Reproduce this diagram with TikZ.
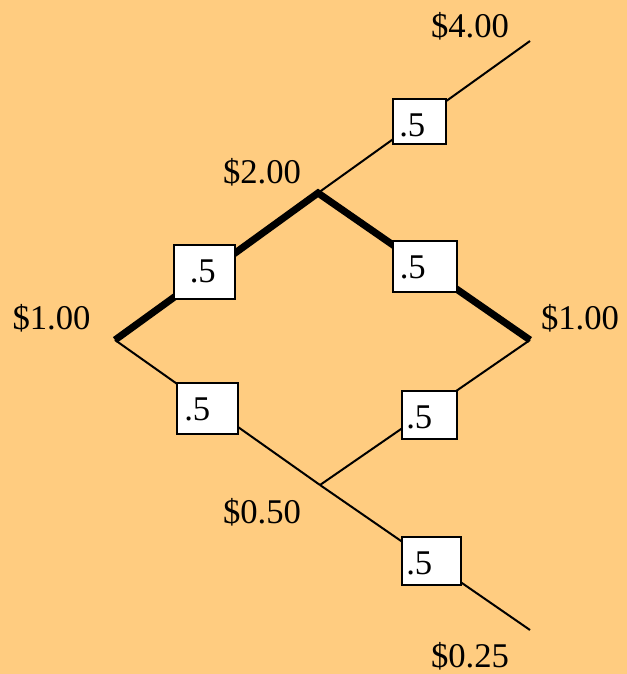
\documentclass[tikz,border=0pt]{standalone}
\usepackage{fontspec}
\setmainfont{Liberation Serif}
\definecolor{bgpeach}{RGB}{255,204,128}
\begin{document}
\begin{tikzpicture}[x=0.75pt,y=-0.75pt,
  thinline/.style={line width=1.5pt},
  thickline/.style={line width=5.3pt,line join=miter},
  probbox/.style={draw,fill=white,line width=1.5pt,inner sep=0pt,rectangle},
  probtxt/.style={anchor=base west,inner sep=0pt,font=\fontsize{26}{30}\selectfont},
  money/.style={anchor=base,inner sep=0pt,font=\fontsize{26}{30}\selectfont}]
\fill[bgpeach] (0,0) rectangle (627,674);
\useasboundingbox (0,0) rectangle (627,674);
% tree points
\coordinate (A) at (115,340);
\coordinate (B) at (318,193);
\coordinate (C) at (530,41);
\coordinate (D) at (530,340);
\coordinate (E) at (320,485);
\coordinate (F) at (530,630);
% connectors
\draw[thinline] (B) -- (C);
\draw[thinline] (A) -- (E);
\draw[thinline] (E) -- (D);
\draw[thinline] (E) -- (F);
\draw[thickline] (A) -- (B) -- (D);
% probability boxes
\node[probbox,minimum width=46pt,minimum height=40.5pt] (b1) at (204.7,271.7) {};
\node[probbox,minimum width=40pt,minimum height=33.5pt] (b2) at (419.7,121.2) {};
\node[probbox,minimum width=48pt,minimum height=38.5pt] (b3) at (425.2,266.3) {};
\node[probbox,minimum width=45.5pt,minimum height=38.5pt] (b4) at (207.7,408.8) {};
\node[probbox,minimum width=41.5pt,minimum height=36pt] (b5) at (429.2,415.3) {};
\node[probbox,minimum width=44.5pt,minimum height=36pt] (b6) at (431.2,560.8) {};
\node[probtxt] (t1) at (189.5,282.7) {.5};
\node[probtxt] (t2) at (399,136) {.5};
\node[probtxt] (t3) at (399.5,278.3) {.5};
\node[probtxt] (t4) at (184,420) {.5};
\node[probtxt] (t5) at (406,428.3) {.5};
\node[probtxt] (t6) at (406,574) {.5};
% money labels
\node[money] (m4) at (470,37.7) {\$4.00};
\node[money] (m2) at (262,183) {\$2.00};
\node[money] (m1l) at (51.5,329.3) {\$1.00};
\node[money] (m1r) at (580,329.3) {\$1.00};
\node[money] (m05) at (262,523.5) {\$0.50};
\node[money] (m025) at (470,667) {\$0.25};
\end{tikzpicture}
\end{document}
